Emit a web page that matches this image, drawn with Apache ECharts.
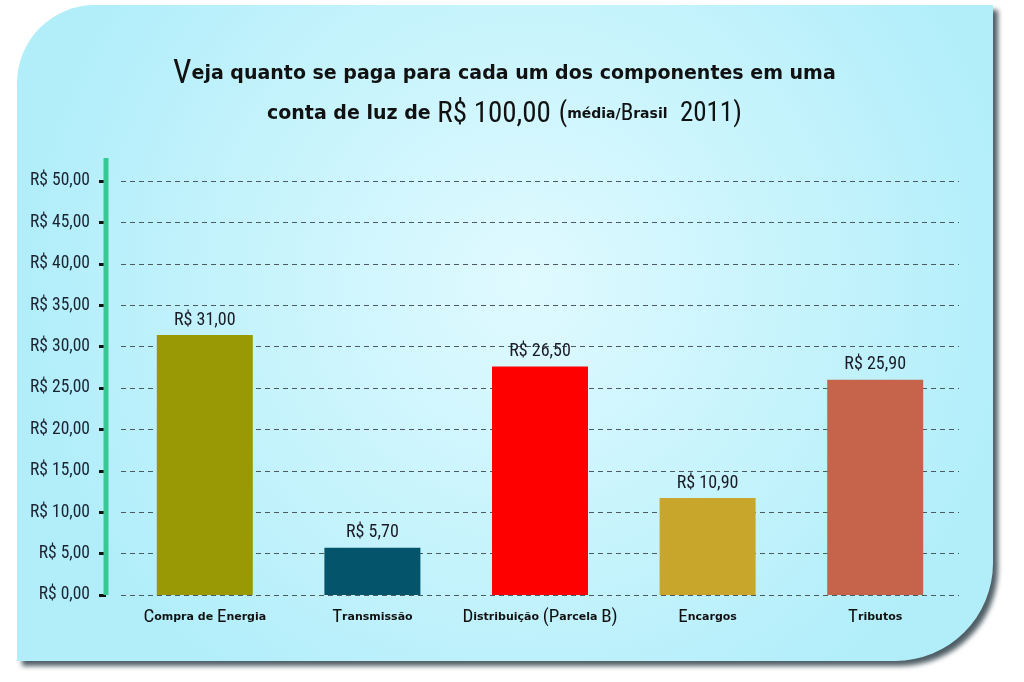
<!DOCTYPE html>
<html>
<head>
<meta charset="utf-8">
<script src="https://cdn.jsdelivr.net/npm/echarts@6/dist/echarts.min.js"></script>
<style>
html,body{margin:0;padding:0;background:#fff;}
#chart{width:1024px;height:682px;}
</style>
</head>
<body>
<div id="chart"></div>
<script>
// ---- data ----
var categories = ['Compra de Energia', 'Transmissão', 'Distribuição (Parcela B)', 'Encargos', 'Tributos'];
// bar heights as drawn in the picture
var values = [31.4, 5.7, 27.6, 11.7, 26.0];
// value labels as printed above the bars
var valueLabels = ['R$ 31,00', 'R$ 5,70', 'R$ 26,50', 'R$ 10,90', 'R$ 25,90'];
var barColors = ['#999906', '#04546c', '#ff0000', '#c8a62c', '#c5644a'];
var yTicks = [0, 5, 10, 15, 20, 25, 30, 35, 40, 45, 50];
var yTickLabels = ['R$ 0,00', 'R$ 5,00', 'R$ 10,00', 'R$ 15,00', 'R$ 20,00', 'R$ 25,00', 'R$ 30,00', 'R$ 35,00', 'R$ 40,00', 'R$ 45,00', 'R$ 50,00'];
var titleLine1 = 'Veja quanto se paga para cada um dos componentes em uma';
var titleLine2a = 'conta de luz de ';
var titleLine2b = 'R$ 100,00';
var titleLine2c = ['(', 'média/', 'B', 'rasil', '2011)'];

var NARROW = "'Roboto Condensed','Open Sans Condensed',Roboto,sans-serif";
var GOTH = "'DejaVu Sans',sans-serif";

var chart = echarts.init(document.getElementById('chart'), null, {renderer: 'canvas'});

var option = {
  backgroundColor: '#ffffff',
  animation: false,
  graphic: [
    {
      type: 'rect', z: -10,
      shape: {x: 17, y: 5, width: 976, height: 656, r: [78, 0, 98, 0]},
      style: {
        fill: {
          type: 'radial', x: 0.52, y: 0.42, r: 0.75,
          colorStops: [{offset: 0, color: '#e0faff'}, {offset: 1, color: '#b2eefa'}]
        },
        shadowBlur: 5, shadowOffsetX: 5, shadowOffsetY: 5,
        shadowColor: 'rgba(20,40,50,0.75)'
      }
    },
    {
      type: 'line', z: 10,
      shape: {x1: 106, y1: 158, x2: 106, y2: 595},
      style: {stroke: '#36c994', lineWidth: 5}
    }
  ],
  title: [
    {
      text: '{v|' + titleLine1.charAt(0) + '}{t|' + titleLine1.slice(1) + '}',
      left: 168, top: 53,
      textStyle: {
        rich: {
          v: {fontFamily: NARROW, fontSize: 33, color: '#111', fontWeight: 'normal'},
          t: {fontFamily: GOTH, fontSize: 19, fontWeight: 'bold', color: '#111'}
        }
      }
    },
    {
      text: '{t|' + titleLine2a + '}{b|' + titleLine2b + '}{s|  }{p|' + titleLine2c[0] + '}{t2|' + titleLine2c[1] + '}{c|' + titleLine2c[2] + '}{t2|' + titleLine2c[3] + '}{p|  ' + titleLine2c[4] + '}',
      left: 262, top: 95,
      textStyle: {
        rich: {
          t: {fontFamily: GOTH, fontSize: 19, fontWeight: 'bold', color: '#111'},
          b: {fontFamily: NARROW, fontSize: 29, fontWeight: 'normal', color: '#111'},
          s: {fontSize: 14, fontWeight: 'normal'},
          p: {fontFamily: NARROW, fontSize: 27, fontWeight: 'normal', color: '#111'},
          c: {fontFamily: NARROW, fontSize: 23, fontWeight: 'normal', color: '#111'},
          t2: {fontFamily: GOTH, fontSize: 14, fontWeight: 'bold', color: '#111'}
        }
      }
    }
  ],
  grid: {left: 121, right: 65, top: 181, bottom: 87, containLabel: false},
  xAxis: {
    type: 'category',
    data: categories,
    axisLine: {show: false},
    axisTick: {show: false},
    axisLabel: {
      margin: 13,
      interval: 0,
      color: '#111',
      fontFamily: GOTH, fontSize: 11, fontWeight: 'bold',
      formatter: function (v) {
        return v.replace(/([A-Z()]+)/g, '{c|$1}');
      },
      rich: {
        c: {fontFamily: NARROW, fontSize: 19, fontWeight: 'normal', color: '#111'}
      }
    }
  },
  yAxis: {
    type: 'value',
    min: 0, max: 50, interval: 5,
    offset: 15,
    axisLine: {show: false},
    axisTick: {show: true, length: 7, lineStyle: {color: '#111', width: 3}},
    axisLabel: {
      margin: 16,
      color: '#1b2230',
      fontFamily: NARROW, fontSize: 17.5,
      formatter: function (v) {
        var i = yTicks.indexOf(v);
        return i >= 0 ? yTickLabels[i] : '';
      }
    },
    splitLine: {show: true, lineStyle: {color: '#4d5a60', type: [5, 4], width: 1}}
  },
  series: [{
    type: 'bar',
    data: values.map(function (v, i) { return {value: v, itemStyle: {color: barColors[i]}}; }),
    barWidth: 96,
    label: {
      show: true, position: 'top', distance: 6,
      color: '#1b1b26', fontFamily: NARROW, fontSize: 18,
      formatter: function (p) { return valueLabels[p.dataIndex]; }
    }
  }]
};
chart.setOption(option);
</script>
</body>
</html>
